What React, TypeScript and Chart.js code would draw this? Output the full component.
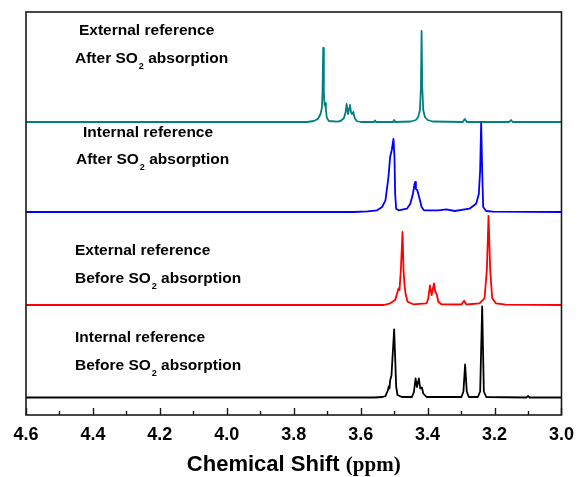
import React, { useEffect, useRef } from "react";
import { Chart, registerables } from "chart.js";

Chart.register(...registerables);

// ---- axis ----
const xMajorTicks = [4.6, 4.4, 4.2, 4.0, 3.8, 3.6, 3.4, 3.2, 3.0];
const xMinorTicks = [4.5, 4.3, 4.1, 3.9, 3.7, 3.5, 3.3, 3.1];
const xTitleMain = "Chemical Shift ";
const xTitleUnit = "(ppm)";

// ---- series (bottom to top) ----
const seriesColors = ["#000000", "#ff0000", "#0000ff", "#008080"];
const seriesOffsets = [17.5, 110, 203, 293];
const seriesLabelTop = ["Internal reference", "External reference", "Internal reference", "External reference"];
const seriesLabelBottom = ["Before", "Before", "After", "After"];

// Internal reference, before SO2 absorption (black)
const blackShift = [4.6, 3.56, 3.535, 3.526, 3.519, 3.516, 3.514, 3.512, 3.508, 3.504, 3.5, 3.497, 3.494, 3.49, 3.477, 3.447, 3.441, 3.436, 3.432, 3.426, 3.422, 3.417, 3.413, 3.403, 3.299, 3.293, 3.288, 3.283, 3.277, 3.25, 3.243, 3.237, 3.232, 3.225, 3.105, 3.1, 3.095, 3.0];
const blackIntensity = [0, 0, 0.5, 1.3, 7, 11, 9, 17, 22, 45, 68, 40, 11, 2.5, 0.5, 0.5, 5.5, 19, 10.5, 19, 9, 10, 4, 0.5, 0.5, 6, 33, 6, 0.5, 0.5, 6, 91, 6, 0.5, 0, 1.5, 0, 0];

// External reference, before SO2 absorption (red)
const redShift = [4.6, 3.53, 3.512, 3.497, 3.49, 3.487, 3.484, 3.48, 3.475, 3.472, 3.469, 3.466, 3.46, 3.443, 3.403, 3.398, 3.393, 3.388, 3.381, 3.377, 3.373, 3.368, 3.359, 3.299, 3.291, 3.284, 3.245, 3.23, 3.223, 3.218, 3.213, 3.207, 3.196, 3.166, 3.0];
const redIntensity = [0, 0, 1.7, 5, 13, 16.5, 15, 35, 73, 35, 20, 11.5, 3.3, 0.7, 1.7, 6.7, 19.5, 10, 21.5, 13, 11, 3.3, 0.7, 0.5, 4.3, 0.5, 1.7, 6.7, 35, 89, 35, 6.7, 1.7, 0.3, 0];

// Internal reference, after SO2 absorption (blue)
const blueShift = [4.6, 3.62, 3.58, 3.551, 3.536, 3.526, 3.517, 3.512, 3.507, 3.502, 3.499, 3.497, 3.494, 3.487, 3.462, 3.452, 3.444, 3.439, 3.437, 3.435, 3.431, 3.427, 3.423, 3.418, 3.411, 3.368, 3.344, 3.319, 3.275, 3.255, 3.247, 3.243, 3.24, 3.237, 3.234, 3.225, 3.205, 3.0];
const blueIntensity = [0, 0, 0.7, 1.7, 5, 11.7, 35, 55, 62, 73, 55, 18, 3.3, 1.7, 3.3, 8, 18, 28, 30, 23, 22, 17, 12, 5, 1.7, 1.7, 2.7, 1, 3.3, 8.3, 18, 42, 89, 42, 5, 1, 0.3, 0];

// External reference, after SO2 absorption (teal)
const tealShift = [4.6, 3.76, 3.74, 3.728, 3.72, 3.716, 3.714, 3.712, 3.71, 3.708, 3.706, 3.704, 3.701, 3.695, 3.67, 3.66, 3.65, 3.645, 3.642, 3.638, 3.634, 3.632, 3.629, 3.626, 3.622, 3.618, 3.612, 3.6, 3.56, 3.557, 3.554, 3.503, 3.5, 3.497, 3.45, 3.435, 3.428, 3.423, 3.42, 3.418, 3.416, 3.413, 3.408, 3.4, 3.385, 3.295, 3.289, 3.283, 3.156, 3.151, 3.146, 3.0];
const tealIntensity = [0, 0, 1, 3, 8, 14, 30, 74, 30, 17, 19, 12, 4, 1, 0.3, 1, 4, 10, 18, 8, 14, 17, 10, 8, 10, 4, 1, 0, 0, 1.5, 0, 0, 2, 0, 0.5, 2, 5, 12, 35, 91, 35, 12, 5, 2, 0.5, 0, 3, 0, 0, 2, 0, 0];

const seriesShift = [blackShift, redShift, blueShift, tealShift];
const seriesIntensity = [blackIntensity, redIntensity, blueIntensity, tealIntensity];

const SANS = '"Liberation Sans", Arial, Helvetica, sans-serif';
const SERIF = '"Liberation Serif", "Times New Roman", serif';

// label anchor positions (left x, baseline y of first line) per series
const labelPos = [
  { x1: 75, y1: 342, x2: 75, y2: 370 },
  { x1: 75, y1: 255, x2: 75, y2: 283 },
  { x1: 83, y1: 137, x2: 76, y2: 164 },
  { x1: 79, y1: 35, x2: 75, y2: 63 },
];

const decorPlugin = {
  id: "decor",
  afterDraw(chart: any) {
    const { ctx, chartArea } = chart;
    const { left, right, top, bottom } = chartArea;
    const xs = chart.scales.x;
    ctx.save();
    // frame
    ctx.strokeStyle = "#1a1a1a";
    ctx.lineWidth = 1.6;
    ctx.strokeRect(left, top, right - left, bottom - top);
    // ticks
    ctx.lineWidth = 1.4;
    ctx.beginPath();
    xMajorTicks.forEach((v) => {
      const px = Math.round(xs.getPixelForValue(v)) + 0.5;
      ctx.moveTo(px, bottom);
      ctx.lineTo(px, bottom - 7);
    });
    xMinorTicks.forEach((v) => {
      const px = Math.round(xs.getPixelForValue(v)) + 0.5;
      ctx.moveTo(px, bottom);
      ctx.lineTo(px, bottom - 4);
    });
    ctx.stroke();

    // annotations
    ctx.fillStyle = "#000";
    ctx.textBaseline = "alphabetic";
    ctx.textAlign = "left";
    labelPos.forEach((p, i) => {
      ctx.font = `bold 15.5px ${SANS}`;
      ctx.fillText(seriesLabelTop[i], p.x1, p.y1);
      const head = `${seriesLabelBottom[i]} SO`;
      ctx.fillText(head, p.x2, p.y2);
      const w = ctx.measureText(head).width;
      ctx.font = `bold 9px ${SANS}`;
      ctx.fillText("2", p.x2 + w + 1, p.y2 + 6);
      const w2 = ctx.measureText("2").width;
      ctx.font = `bold 15.5px ${SANS}`;
      ctx.fillText(" absorption", p.x2 + w + 1 + w2, p.y2);
    });

    // axis title
    const mainFont = `bold 22px ${SANS}`;
    const unitFont = `bold 21px ${SERIF}`;
    ctx.font = mainFont;
    const wMain = ctx.measureText(xTitleMain).width;
    ctx.font = unitFont;
    const wUnit = ctx.measureText(xTitleUnit).width;
    const cx = (left + right) / 2;
    const startX = cx - (wMain + wUnit) / 2;
    ctx.font = mainFont;
    ctx.fillText(xTitleMain, startX, 471);
    ctx.font = unitFont;
    ctx.fillText(xTitleUnit, startX + wMain, 471);
    ctx.restore();
  },
};

export default function App() {
  const canvasRef = useRef<HTMLCanvasElement | null>(null);

  useEffect(() => {
    if (!canvasRef.current) return;
    const datasets = seriesShift.map((shifts, i) => ({
      label: `${seriesLabelTop[i]} ${seriesLabelBottom[i]}`,
      data: shifts.map((s, j) => ({ x: s, y: seriesIntensity[i][j] + seriesOffsets[i] })),
      borderColor: seriesColors[i],
      backgroundColor: seriesColors[i],
      borderWidth: 1.8,
      borderJoinStyle: "round",
      pointRadius: 0,
      tension: 0,
      fill: false,
    }));
    const chart = new Chart(canvasRef.current, {
      type: "line",
      data: { datasets },
      options: {
        animation: false,
        responsive: false,
        devicePixelRatio: 1,
        layout: { padding: { left: 26, right: 17, top: 12, bottom: 0 } },
        plugins: { legend: { display: false }, tooltip: { enabled: false }, title: { display: false } },
        scales: {
          x: {
            type: "linear",
            reverse: true,
            min: 3.0,
            max: 4.6,
            grid: { display: false, drawTicks: false },
            border: { display: false },
            afterBuildTicks: (scale: any) => {
              scale.ticks = xMajorTicks.map((v) => ({ value: v }));
            },
            afterFit: (scale: any) => {
              scale.height = 62;
            },
            ticks: {
              padding: 9,
              color: "#000",
              font: { family: SANS, size: 18, weight: "bold" },
              maxRotation: 0,
              autoSkip: false,
              callback: (v: any) => Number(v).toFixed(1),
            },
          },
          y: { display: false, min: 0, max: 403 },
        },
      },
      plugins: [decorPlugin],
    } as any);
    return () => chart.destroy();
  }, []);

  return (
    <div style={{ position: "absolute", left: 0, top: 0, width: 583, height: 477, background: "#fff" }}>
      <canvas ref={canvasRef} width={583} height={477} style={{ display: "block" }} />
    </div>
  );
}
